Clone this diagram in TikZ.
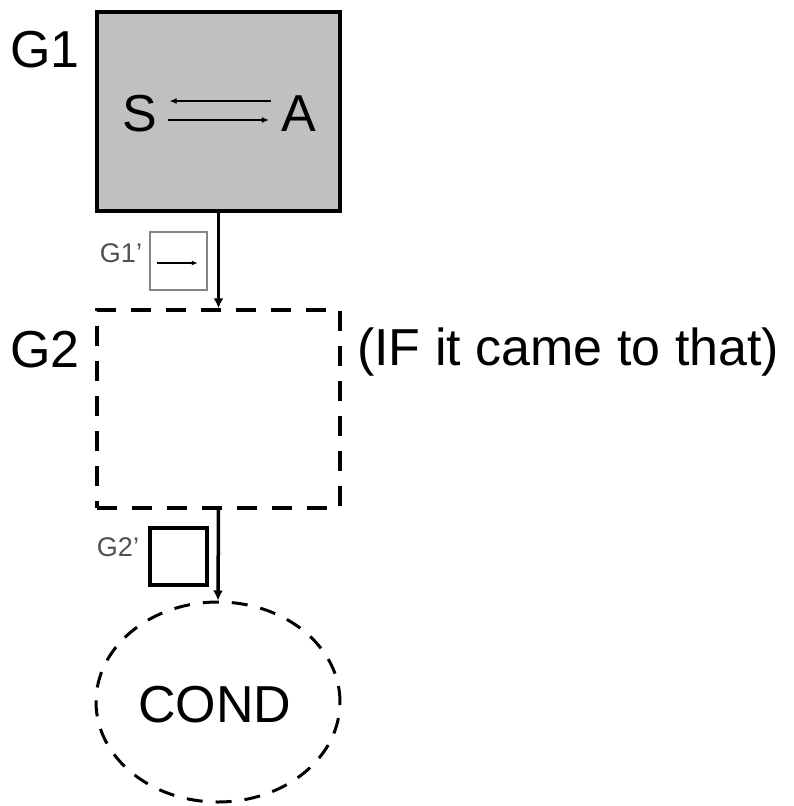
\documentclass[tikz,border=0pt]{standalone}
\usepackage{fontspec}
\setmainfont{Liberation Sans}
\usetikzlibrary{arrows.meta,shapes.geometric}
\definecolor{boxgray}{RGB}{192,192,192}
\definecolor{labgray}{RGB}{80,80,80}
\tikzset{
  big/.style={font=\fontsize{52}{60}\selectfont, inner sep=0pt},
  small/.style={font=\fontsize{27}{30}\selectfont, inner sep=0pt, text=labgray},
  conn/.style={line width=3.5pt, -{Latex[length=10pt,width=10pt]}},
  thin arrow/.style={line width=1.5pt, -{Latex[length=7pt,width=6pt]}},
  dashbox/.style={draw, line width=3.5pt, dash pattern=on 20pt off 15pt, inner sep=0pt}
}
\begin{document}
\begin{tikzpicture}[x=1pt,y=-1pt]
\useasboundingbox (0,0) rectangle (794,806);
% G1
\node[draw, fill=boxgray, line width=3.5pt, minimum width=243pt, minimum height=199pt, inner sep=0pt] (g1) at (218.5,111.5) {};
\node[big] (S) at (140,114) {S};
\node[big] (A) at (298.5,114) {A};
\draw[thin arrow] ([shift={(-10pt,13pt)}]A.west) -- ([shift={(12pt,13pt)}]S.east);
\draw[thin arrow] ([shift={(10pt,-6pt)}]S.east) -- ([shift={(-12pt,-6pt)}]A.west);
\node[big] (g1lab) at (45,50) {G1};
% G1'
\node[draw=labgray!70, line width=1.5pt, minimum width=57pt, minimum height=58pt, inner sep=0pt] (g1p) at (178.5,261) {};
\draw[line width=1.8pt, -{Latex[length=6pt,width=5pt]}] ([shift={(8pt,-2pt)}]g1p.west) -- ([shift={(-10pt,-2pt)}]g1p.east);
\node[small] (g1plab) at (121,253) {G1'};
% G2
\node[dashbox, minimum width=243pt, minimum height=198pt] (g2) at (218.5,409) {};
\node[big] (g2lab) at (45,350) {G2};
\node[big, anchor=west] (iflab) at (357,352) {(IF it came to that)};
% G2'
\node[draw, line width=3.5pt, minimum width=57pt, minimum height=57pt, inner sep=0pt] (g2p) at (178.5,556.5) {};
\node[small] (g2plab) at (118,547) {G2'};
% COND
\node[ellipse, draw, line width=3pt, dash pattern=on 16pt off 13pt, minimum width=244pt, minimum height=200pt, inner sep=0pt] (cond) at (218,702) {};
\node[big] (condlab) at (215,705) {COND};
% connectors
\draw[conn] (g1.south) -- (g2.north);
\draw[conn] (g2.south) -- (cond.north);
\end{tikzpicture}
\end{document}
